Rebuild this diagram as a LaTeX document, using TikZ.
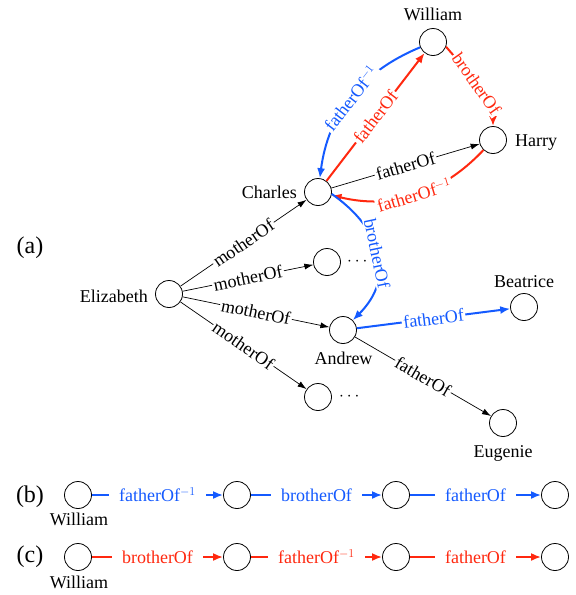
\documentclass[tikz,border=0pt]{standalone}
\usepackage{fontspec}
\setmainfont{Liberation Serif}
\usetikzlibrary{arrows.meta}
\definecolor{myblue}{RGB}{20,90,255}
\definecolor{myred}{RGB}{255,40,15}
\begin{document}
\begin{tikzpicture}[x=1pt,y=1pt,
  vtx/.style={circle,draw,line width=0.8pt,minimum size=27pt,inner sep=0pt},
  txt/.style={inner sep=0pt,font=\fontsize{18}{22}\selectfont},
  big/.style={inner sep=0pt,font=\fontsize{24}{28}\selectfont},
  blk/.style={draw,line width=0.7pt,-{Latex[length=9pt,width=6pt]}},
  blu/.style={draw=myblue,line width=2pt,-{Latex[length=10pt,width=8pt]}},
  rd/.style={draw=myred,line width=2pt,-{Latex[length=10pt,width=8pt]}},
  el/.style={fill=white,inner sep=1.5pt,font=\fontsize{18}{22}\selectfont,sloped,midway},
  bl/.style={el,text=myblue},
  rl/.style={el,text=myred},
  wl/.style={fill=white,inner xsep=10pt,inner ysep=2pt,font=\fontsize{18}{22}\selectfont,midway},
]
\useasboundingbox (0,0) rectangle (576,-595);

% graph (a)
\node[vtx] (W) at (433,-42) {};
\node[vtx] (H) at (493,-140) {};
\node[vtx] (C) at (318,-192) {};
\node[vtx] (E) at (169,-294) {};
\node[vtx] (D1) at (327,-262) {};
\node[vtx] (A) at (343,-330) {};
\node[vtx] (D2) at (318,-397) {};
\node[vtx] (B) at (524,-307) {};
\node[vtx] (G) at (503,-423) {};

\node[txt,anchor=base] (tW) at (433,-20) {William};
\node[txt,anchor=base west] (tH) at (515,-146) {Harry};
\node[txt,anchor=base east] (tC) at (297,-198) {Charles};
\node[txt,anchor=base east] (tE) at (148,-302) {Elizabeth};
\node[txt,anchor=base] (tA) at (343.5,-364) {Andrew};
\node[txt,anchor=base] (tB) at (524,-287) {Beatrice};
\node[txt,anchor=base] (tG) at (503,-457) {Eugenie};
\node[txt,anchor=base west] (d1) at (347,-265) {$\cdots$};
\node[txt,anchor=base west] (d2) at (339,-400) {$\cdots$};
\node[big,anchor=base] (la) at (30,-253) {(a)};

\draw[blk] (E) -- node[el] (l1) {motherOf} (C);
\draw[blk] (E) -- node[el] (l2) {motherOf} (D1);
\draw[blk] (E) -- node[el] (l3) {motherOf} (A);
\draw[blk] (E) -- node[el] (l4) {motherOf} (D2);
\draw[blk] (C) -- node[el] (l5) {fatherOf} (H);
\draw[blk] (A) -- node[el] (l6) {fatherOf} (G);
\draw[rd] (C) -- node[rl] (l7) {fatherOf} (W);
\draw[rd] (W.-20) .. controls +(-50:30) and +(90:30) .. node[rl] (l8) {brotherOf} (H.north);
\draw[rd] (H) to[bend left=30] node[rl] (l9) {fatherOf$^{-1}$} (C);
\draw[blu] (W) to[bend right=30] node[bl] (l10) {fatherOf$^{-1}$} (C);
\draw[blu] (C.-8) .. controls +(-35:60) and +(45:62) .. node[bl] (l11) {brotherOf} (A.45);
\draw[blu] (A) -- node[bl] (l12) {fatherOf} (B);

% row (b)
\node[big,anchor=base] (lb) at (30,-502) {(b)};
\node[vtx] (b1) at (78,-495) {};
\node[vtx] (b2) at (237,-495) {};
\node[vtx] (b3) at (396,-495) {};
\node[vtx] (b4) at (555,-495) {};
\node[txt,anchor=base] (tb) at (79,-525) {William};
\draw[blu] (b1) -- node[wl,text=myblue] (m1) {fatherOf$^{-1}$} (b2);
\draw[blu] (b2) -- node[wl,text=myblue] (m2) {brotherOf} (b3);
\draw[blu] (b3) -- node[wl,text=myblue] (m3) {fatherOf} (b4);

% row (c)
\node[big,anchor=base] (lc) at (30,-562) {(c)};
\node[vtx] (c1) at (78,-557) {};
\node[vtx] (c2) at (237,-557) {};
\node[vtx] (c3) at (396,-557) {};
\node[vtx] (c4) at (555,-557) {};
\node[txt,anchor=base] (tc) at (79,-588) {William};
\draw[rd] (c1) -- node[wl,text=myred] (n1) {brotherOf} (c2);
\draw[rd] (c2) -- node[wl,text=myred] (n2) {fatherOf$^{-1}$} (c3);
\draw[rd] (c3) -- node[wl,text=myred] (n3) {fatherOf} (c4);
\end{tikzpicture}
\end{document}
